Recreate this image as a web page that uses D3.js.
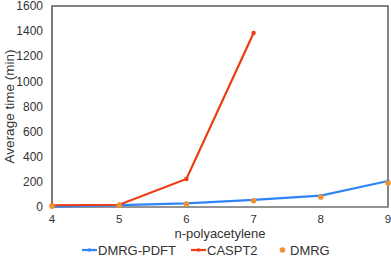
<!DOCTYPE html>
<html>
<head>
<meta charset="utf-8">
<script src="https://cdn.jsdelivr.net/npm/d3@7"></script>
<style>
    body { margin: 0; background: #fff; }
    text { font-family: "Liberation Sans", Arial, sans-serif; fill: #333; }
</style>
</head>
<body>
<svg id="chart" width="391" height="257"></svg>
<script>
// Data ////////////////////////////////////

const sizes = [4, 5, 6, 7, 8, 9];
const pdft = [3, 15, 29, 56, 90, 207];
const caspt2 = [14, 18, 223, 1385];
const dmrg = [6, 14, 24, 50, 80, 191];
const yTicks = [0, 200, 400, 600, 800, 1000, 1200, 1400, 1600];

const colors = { pdft: "#2f85f7", caspt2: "#ec3c14", dmrg: "#f29331" };

// Chart ////////////////////////////////////

const svg = d3.select("#chart");
const m = { top: 6, right: 3, bottom: 50, left: 52 };
const width = 391, height = 257;

const x = d3.scaleLinear().domain([4, 9]).range([m.left, width - m.right]);
const y = d3.scaleLinear().domain([0, 1600]).range([height - m.bottom, m.top]);

// Frame
svg.append("rect")
    .attr("x", x(4)).attr("y", y(1600))
    .attr("width", x(9) - x(4)).attr("height", y(0) - y(1600))
    .attr("fill", "none").attr("stroke", "#333").attr("stroke-width", 1.2);

svg.append("line")
    .attr("x1", x(4)).attr("x2", x(4)).attr("y1", y(1600)).attr("y2", y(0))
    .attr("stroke", "#777").attr("stroke-width", 1.5);

svg.append("line")
    .attr("x1", x(4)).attr("x2", x(9)).attr("y1", y(0)).attr("y2", y(0))
    .attr("stroke", "#999").attr("stroke-width", 1.5);

// Axes
svg.append("g")
    .selectAll("text")
    .data(yTicks)
    .join("text")
    .attr("x", m.left - 9)
    .attr("y", d => y(d))
    .attr("dy", "0.35em")
    .attr("text-anchor", "end")
    .style("font-size", "12px")
    .text(d => d);

svg.append("g")
    .selectAll("text")
    .data(sizes)
    .join("text")
    .attr("x", d => x(d))
    .attr("y", y(0) + 12)
    .attr("dy", "0.35em")
    .attr("text-anchor", "middle")
    .style("font-size", "11.5px")
    .text(d => d);

svg.append("text")
    .attr("transform", `translate(9, ${ (y(0) + y(1600)) / 2 }) rotate(-90)`)
    .attr("dy", "0.35em")
    .attr("text-anchor", "middle")
    .style("font-size", "13.5px")
    .text("Average time (min)");

svg.append("text")
    .attr("x", (x(4) + x(9)) / 2)
    .attr("y", 233.5)
    .attr("dy", "0.35em")
    .attr("text-anchor", "middle")
    .style("font-size", "13px")
    .text("n-polyacetylene");

// Series
const line = d3.line().x(d => x(d[0])).y(d => y(d[1]));

svg.append("path")
    .datum(sizes.map((s, i) => [s, pdft[i]]))
    .attr("d", line)
    .attr("fill", "none")
    .attr("stroke", colors.pdft)
    .attr("stroke-width", 2.2);

svg.append("g")
    .selectAll("circle")
    .data(sizes.map((s, i) => [s, pdft[i]]))
    .join("circle")
    .attr("cx", d => x(d[0])).attr("cy", d => y(d[1]))
    .attr("r", 1.8).attr("fill", colors.pdft);

svg.append("path")
    .datum(caspt2.map((v, i) => [sizes[i], v]))
    .attr("d", line)
    .attr("fill", "none")
    .attr("stroke", colors.caspt2)
    .attr("stroke-width", 2.2);

svg.append("g")
    .selectAll("circle")
    .data(caspt2.map((v, i) => [sizes[i], v]))
    .join("circle")
    .attr("cx", d => x(d[0])).attr("cy", d => y(d[1]))
    .attr("r", 2.2).attr("fill", colors.caspt2);

svg.append("g")
    .selectAll("circle")
    .data(sizes.map((s, i) => [s, dmrg[i]]))
    .join("circle")
    .attr("cx", d => x(d[0])).attr("cy", d => y(d[1]))
    .attr("r", 2.8).attr("fill", colors.dmrg);

// Legend
const legend = [
    { name: "DMRG-PDFT", color: colors.pdft, x: 82, type: "line" },
    { name: "CASPT2", color: colors.caspt2, x: 191, type: "line" },
    { name: "DMRG", color: colors.dmrg, x: 275, type: "dot" }
];

const lg = svg.append("g").selectAll("g")
    .data(legend)
    .join("g")
    .attr("transform", d => `translate(${ d.x }, 250)`);

lg.filter(d => d.type == "line").append("line")
    .attr("x1", 0).attr("x2", 15)
    .attr("stroke", d => d.color).attr("stroke-width", 2.2);

lg.filter(d => d.type == "line").append("circle")
    .attr("cx", 7.5).attr("r", 1.8).attr("fill", d => d.color);

lg.filter(d => d.type == "dot").append("circle")
    .attr("cx", 7.5).attr("r", 2.8).attr("fill", d => d.color);

lg.append("text")
    .attr("x", d => d.type == "dot" ? 15 : 16)
    .attr("dy", "0.35em")
    .style("font-size", "13px")
    .text(d => d.name);
</script>
</body>
</html>
